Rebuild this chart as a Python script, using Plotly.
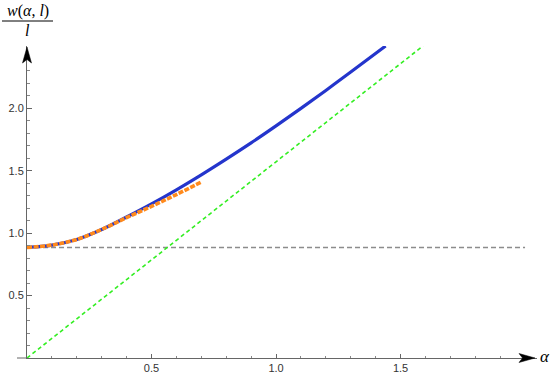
import plotly.graph_objects as go

# ---- data ----
alpha_blue = [0.0, 0.1, 0.2, 0.3, 0.4, 0.5, 0.6, 0.7, 0.8, 0.9, 1.0, 1.1, 1.2, 1.3, 1.44]
w_blue = [0.886, 0.905, 0.95, 1.03, 1.13, 1.235, 1.348, 1.468, 1.594, 1.724, 1.86, 2.0, 2.144, 2.291, 2.50]

alpha_orange = [0.0, 0.1, 0.2, 0.3, 0.4, 0.5, 0.6, 0.7]
w_orange = [0.886, 0.905, 0.95, 1.03, 1.125, 1.215, 1.31, 1.41]

alpha_grey = [0.0, 2.0]
w_grey = [0.886, 0.886]

alpha_green = [0.0, 1.59]
w_green = [0.0, 2.50]

x_ticks = [0.5, 1.0, 1.5]
x_ticklabels = ["0.5", "1.0", "1.5"]
y_ticks = [0.5, 1.0, 1.5, 2.0]
y_ticklabels = ["0.5", "1.0", "1.5", "2.0"]

X_MAX = 2.048
Y_MAX = 2.5
PW, PH = 510, 312  # plot area size in pixels

fig = go.Figure()
fig.add_trace(go.Scatter(x=alpha_grey, y=w_grey, mode="lines",
                         line=dict(color="#8c8c8c", width=1.6, dash="5px,3px"), hoverinfo="skip"))
fig.add_trace(go.Scatter(x=alpha_green, y=w_green, mode="lines",
                         line=dict(color="#33ee22", width=1.6, dash="4px,3px"), hoverinfo="skip"))
fig.add_trace(go.Scatter(x=alpha_blue, y=w_blue, mode="lines", line_shape="spline",
                         line=dict(color="#2435cc", width=3.2), hoverinfo="skip"))
fig.add_trace(go.Scatter(x=alpha_orange, y=w_orange, mode="lines", line_shape="spline",
                         line=dict(color="#ff8a1c", width=3.6, dash="5px,1.5px"), hoverinfo="skip"))

axis_common = dict(
    showgrid=False, zeroline=False, showline=True, linecolor="#666666", linewidth=1,
    ticks="inside", ticklen=4.5, tickcolor="#666666", tickwidth=1,
    tickfont=dict(family="Liberation Sans, Arial, sans-serif", size=11, color="#333333"),
    minor=dict(ticks="inside", ticklen=2.5, tickcolor="#888888", dtick=0.1, tick0=0, showgrid=False),
    automargin=False, fixedrange=True,
)

fig.update_layout(
    width=554, height=374,
    margin=dict(l=27, r=17, t=46, b=16, pad=0),
    paper_bgcolor="white", plot_bgcolor="white",
    showlegend=False,
    xaxis=dict(range=[0, X_MAX], tickvals=x_ticks, ticktext=x_ticklabels, **axis_common),
    yaxis=dict(range=[0, Y_MAX], tickvals=y_ticks, ticktext=y_ticklabels, **axis_common),
)

# small extension of the horizontal axis to the left of the vertical axis
fig.add_shape(type="line", xref="paper", yref="paper",
              x0=-10 / PW, x1=0, y0=0, y1=0,
              line=dict(color="#666666", width=1))

# arrowheads on the axes (paper-referenced so they are not clipped)
fig.add_shape(type="path", xref="paper", yref="paper", xsizemode="pixel", ysizemode="pixel",
              xanchor=(535 - 27) / PW, yanchor=0,
              path="M 0,0 L -16,4.5 L -12.5,0 L -16,-4.5 Z",
              fillcolor="black", line=dict(color="black", width=0.5))
fig.add_shape(type="path", xref="paper", yref="paper", xsizemode="pixel", ysizemode="pixel",
              xanchor=0, yanchor=(358 - 47) / PH,
              path="M 0,0 L -4.5,-16 L 0,-12.5 L 4.5,-16 Z",
              fillcolor="black", line=dict(color="black", width=0.5))

# axis labels
serif = "Liberation Serif, Times New Roman, serif"
fig.add_annotation(xref="paper", yref="paper", x=(545 - 27) / PW, y=(374 - 16 - 356) / PH,
                   text="<i>α</i>", showarrow=False, font=dict(family=serif, size=17, color="black"),
                   xanchor="center", yanchor="middle")
fig.add_annotation(xref="paper", yref="paper", x=(28 - 27) / PW, y=(374 - 16 - 11) / PH,
                   text="<i>w</i>(<i>α</i>, <i>l</i>)", showarrow=False,
                   font=dict(family=serif, size=16, color="black"),
                   xanchor="center", yanchor="middle")
fig.add_annotation(xref="paper", yref="paper", x=(27 - 27) / PW, y=(374 - 16 - 31) / PH,
                   text="<i>l</i>", showarrow=False,
                   font=dict(family=serif, size=16, color="black"),
                   xanchor="center", yanchor="middle")
fig.add_shape(type="line", xref="paper", yref="paper",
              x0=(2 - 27) / PW, x1=(53 - 27) / PW,
              y0=(374 - 16 - 21) / PH, y1=(374 - 16 - 21) / PH,
              line=dict(color="black", width=1))

fig.write_html("out.html", config={"displayModeBar": False},
               post_script="document.body.style.margin='0';document.body.style.overflow='hidden';")
